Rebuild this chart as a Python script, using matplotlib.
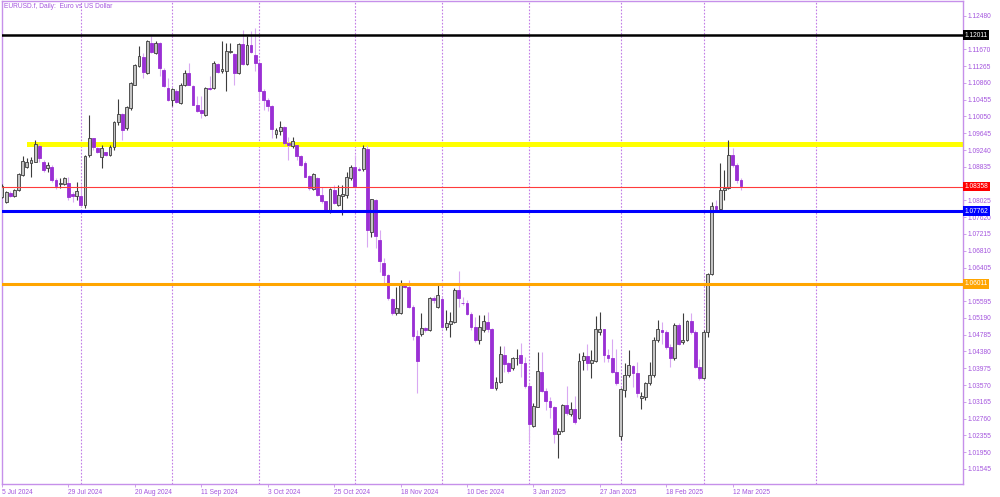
import matplotlib
matplotlib.use('Agg')
import matplotlib.pyplot as plt
import matplotlib.transforms as mtransforms
import numpy as np
import pandas as pd

# EURUSD.f daily candles, 5 Jul 2024 - 14 Mar 2025
opens = [1.0811, 1.0799, 1.0821, 1.0813, 1.0827, 1.0864, 1.0884, 1.0893, 1.0896, 1.0934,
         1.0896, 1.0880, 1.0884, 1.0852, 1.0842, 1.0842, 1.0844, 1.0819, 1.0813, 1.0814,
         1.0791, 1.0912, 1.0952, 1.0928, 1.0906, 1.0918, 1.0912, 1.0932, 1.0992, 1.1011,
         1.0977, 1.1025, 1.1082, 1.1126, 1.1148, 1.1110, 1.1182, 1.1158, 1.1182, 1.1118,
         1.1074, 1.1045, 1.1066, 1.1037, 1.1082, 1.1110, 1.1078, 1.1033, 1.1021, 1.1009,
         1.1074, 1.1074, 1.1132, 1.1114, 1.1115, 1.1160, 1.1156, 1.1110, 1.1180, 1.1132,
         1.1178, 1.1152, 1.1134, 1.1067, 1.1045, 1.1029, 1.0963, 1.0969, 1.0979, 1.0941,
         1.0933, 1.0935, 1.0909, 1.0893, 1.0862, 1.0830, 1.0856, 1.0816, 1.0800, 1.0776,
         1.0827, 1.0792, 1.0814, 1.0816, 1.0856, 1.0882, 1.0879, 1.0878, 1.0927, 1.0727,
         1.0804, 1.0707, 1.0651, 1.0622, 1.0564, 1.0530, 1.0530, 1.0599, 1.0594, 1.0546,
         1.0476, 1.0480, 1.0494, 1.0490, 1.0568, 1.0546, 1.0564, 1.0498, 1.0505, 1.0509,
         1.0586, 1.0555, 1.0554, 1.0528, 1.0496, 1.0465, 1.0490, 1.0510, 1.0491, 1.0351,
         1.0365, 1.0429, 1.0409, 1.0397, 1.0421, 1.0429, 1.0409, 1.0355, 1.0258, 1.0305,
         1.0389, 1.0343, 1.0319, 1.0303, 1.0240, 1.0245, 1.0309, 1.0287, 1.0299, 1.0277,
         1.0417, 1.0427, 1.0409, 1.0415, 1.0486, 1.0491, 1.0429, 1.0421, 1.0389, 1.0235,
         1.0346, 1.0381, 1.0403, 1.0385, 1.0325, 1.0329, 1.0361, 1.0381, 1.0466, 1.0490,
         1.0486, 1.0449, 1.0421, 1.0502, 1.0460, 1.0466, 1.0511, 1.0485, 1.0401, 1.0375,
         1.0486, 1.0625, 1.0789, 1.0781, 1.0828, 1.0832, 1.0912, 1.0888, 1.0852]
highs = [1.0841, 1.0826, 1.0824, 1.0829, 1.0868, 1.0909, 1.0904, 1.0908, 1.0948, 1.0938,
         1.0900, 1.0896, 1.0888, 1.0856, 1.0856, 1.0860, 1.0860, 1.0823, 1.0847, 1.0840,
         1.0912, 1.1008, 1.0953, 1.0932, 1.0936, 1.0920, 1.0936, 1.0995, 1.1047, 1.1013,
         1.1029, 1.1087, 1.1132, 1.1174, 1.1158, 1.1189, 1.1198, 1.1186, 1.1184, 1.1122,
         1.1098, 1.1074, 1.1070, 1.1086, 1.1118, 1.1134, 1.1082, 1.1055, 1.1055, 1.1075,
         1.1102, 1.1138, 1.1134, 1.1188, 1.1182, 1.1182, 1.1158, 1.1182, 1.1214, 1.1198,
         1.1210, 1.1218, 1.1138, 1.1070, 1.1049, 1.1033, 1.0977, 1.0993, 1.0981, 1.0955,
         1.0955, 1.0937, 1.0913, 1.0897, 1.0864, 1.0868, 1.0858, 1.0834, 1.0802, 1.0832,
         1.0840, 1.0840, 1.0840, 1.0871, 1.0889, 1.0911, 1.0882, 1.0937, 1.0937, 1.0806,
         1.0806, 1.0731, 1.0663, 1.0626, 1.0566, 1.0594, 1.0610, 1.0602, 1.0610, 1.0550,
         1.0490, 1.0530, 1.0496, 1.0570, 1.0572, 1.0598, 1.0570, 1.0538, 1.0533, 1.0590,
         1.0632, 1.0570, 1.0562, 1.0532, 1.0522, 1.0526, 1.0526, 1.0534, 1.0494, 1.0377,
         1.0450, 1.0450, 1.0413, 1.0425, 1.0445, 1.0459, 1.0425, 1.0361, 1.0313, 1.0437,
         1.0437, 1.0349, 1.0329, 1.0306, 1.0253, 1.0311, 1.0355, 1.0317, 1.0330, 1.0435,
         1.0437, 1.0457, 1.0441, 1.0523, 1.0534, 1.0493, 1.0443, 1.0469, 1.0445, 1.0349,
         1.0409, 1.0441, 1.0405, 1.0413, 1.0340, 1.0365, 1.0413, 1.0474, 1.0514, 1.0510,
         1.0490, 1.0457, 1.0506, 1.0506, 1.0530, 1.0513, 1.0530, 1.0490, 1.0419, 1.0490,
         1.0628, 1.0799, 1.0803, 1.0892, 1.0876, 1.0948, 1.0928, 1.0892, 1.0856]
lows = [1.0808, 1.0797, 1.0810, 1.0810, 1.0825, 1.0862, 1.0880, 1.0860, 1.0894, 1.0896,
        1.0872, 1.0872, 1.0848, 1.0829, 1.0832, 1.0840, 1.0803, 1.0799, 1.0803, 1.0787,
        1.0783, 1.0908, 1.0924, 1.0916, 1.0881, 1.0910, 1.0910, 1.0925, 1.0985, 1.0949,
        1.0973, 1.1021, 1.1080, 1.1124, 1.1098, 1.1108, 1.1158, 1.1156, 1.1102, 1.1075,
        1.1043, 1.1029, 1.1037, 1.1035, 1.1078, 1.1080, 1.1032, 1.1016, 1.1001, 1.1005,
        1.1068, 1.1072, 1.1110, 1.1110, 1.1066, 1.1158, 1.1082, 1.1108, 1.1130, 1.1130,
        1.1158, 1.1114, 1.1045, 1.1021, 1.1017, 1.0953, 1.0953, 1.0961, 1.0937, 1.0900,
        1.0929, 1.0901, 1.0885, 1.0858, 1.0828, 1.0828, 1.0812, 1.0796, 1.0776, 1.0772,
        1.0794, 1.0788, 1.0768, 1.0808, 1.0852, 1.0832, 1.0874, 1.0874, 1.0690, 1.0715,
        1.0687, 1.0630, 1.0598, 1.0562, 1.0526, 1.0526, 1.0528, 1.0592, 1.0542, 1.0466,
        1.0337, 1.0475, 1.0485, 1.0488, 1.0556, 1.0542, 1.0494, 1.0490, 1.0472, 1.0507,
        1.0546, 1.0550, 1.0526, 1.0490, 1.0461, 1.0457, 1.0486, 1.0486, 1.0349, 1.0345,
        1.0361, 1.0389, 1.0385, 1.0393, 1.0405, 1.0377, 1.0349, 1.0220, 1.0256, 1.0303,
        1.0341, 1.0297, 1.0277, 1.0216, 1.0180, 1.0244, 1.0285, 1.0282, 1.0263, 1.0274,
        1.0393, 1.0393, 1.0373, 1.0413, 1.0478, 1.0413, 1.0413, 1.0385, 1.0357, 1.0224,
        1.0329, 1.0377, 1.0353, 1.0329, 1.0300, 1.0321, 1.0357, 1.0377, 1.0461, 1.0457,
        1.0445, 1.0401, 1.0417, 1.0453, 1.0455, 1.0463, 1.0481, 1.0399, 1.0369, 1.0371,
        1.0474, 1.0623, 1.0779, 1.0779, 1.0803, 1.0830, 1.0884, 1.0844, 1.0827]
closes = [1.0836, 1.0823, 1.0813, 1.0827, 1.0866, 1.0897, 1.0894, 1.0900, 1.0938, 1.0904,
          1.0876, 1.0889, 1.0852, 1.0838, 1.0845, 1.0857, 1.0811, 1.0814, 1.0825, 1.0791,
          1.0910, 1.0952, 1.0932, 1.0920, 1.0930, 1.0912, 1.0932, 1.0992, 1.1011, 1.0973,
          1.1028, 1.1085, 1.1130, 1.1150, 1.1112, 1.1188, 1.1160, 1.1182, 1.1122, 1.1078,
          1.1045, 1.1070, 1.1041, 1.1082, 1.1110, 1.1082, 1.1033, 1.1017, 1.1013, 1.1074,
          1.1070, 1.1134, 1.1112, 1.1120, 1.1162, 1.1164, 1.1110, 1.1180, 1.1132, 1.1178,
          1.1160, 1.1134, 1.1066, 1.1045, 1.1029, 1.0975, 1.0973, 1.0979, 1.0941, 1.0935,
          1.0945, 1.0909, 1.0889, 1.0860, 1.0832, 1.0866, 1.0816, 1.0800, 1.0780, 1.0830,
          1.0796, 1.0816, 1.0818, 1.0858, 1.0884, 1.0834, 1.0876, 1.0929, 1.0730, 1.0805,
          1.0716, 1.0655, 1.0622, 1.0566, 1.0531, 1.0542, 1.0598, 1.0594, 1.0546, 1.0476,
          1.0416, 1.0494, 1.0490, 1.0566, 1.0562, 1.0575, 1.0498, 1.0507, 1.0511, 1.0586,
          1.0568, 1.0554, 1.0528, 1.0496, 1.0465, 1.0498, 1.0512, 1.0491, 1.0351, 1.0365,
          1.0433, 1.0408, 1.0391, 1.0421, 1.0423, 1.0409, 1.0355, 1.0264, 1.0306, 1.0391,
          1.0343, 1.0319, 1.0305, 1.0240, 1.0247, 1.0309, 1.0290, 1.0300, 1.0268, 1.0415,
          1.0427, 1.0409, 1.0417, 1.0491, 1.0491, 1.0429, 1.0421, 1.0389, 1.0362, 1.0347,
          1.0381, 1.0405, 1.0385, 1.0337, 1.0330, 1.0361, 1.0381, 1.0466, 1.0491, 1.0486,
          1.0449, 1.0421, 1.0502, 1.0457, 1.0466, 1.0511, 1.0485, 1.0401, 1.0373, 1.0484,
          1.0625, 1.0789, 1.0781, 1.0828, 1.0832, 1.0912, 1.0888, 1.0852, 1.0836]

# trading days (no bars on 25 Dec and 1 Jan)
dates = pd.bdate_range('2024-07-05', '2025-03-14')
dates = dates[~dates.isin(pd.to_datetime(['2024-12-25', '2025-01-01']))]

# horizontal levels drawn on the chart
level_prices = [1.12011, 1.08358, 1.07762, 1.06011]
level_colors = ['#000000', '#ff3b3b', '#0000ff', '#ffa500']
tag_colors = ['#000000', '#ff0000', '#0000ff', '#ffa500']
level_widths = [1.8, 0.8, 2.2, 2.2]
zone_low, zone_high = 1.0931, 1.0944
zone_start = '2024-07-15'

purple = '#a455de'
frame = '#c690ea'
plt.rcParams['font.family'] = ['Liberation Sans', 'DejaVu Sans']

o = np.array(opens)
h = np.array(highs)
l = np.array(lows)
c = np.array(closes)
x = np.arange(len(c))
up = c >= o

fig = plt.figure(figsize=(10, 4.97), dpi=100)
ax = fig.add_axes([0.002, 0.026, 0.961, 0.972])

# yellow zone (behind candles)
zs = int(np.where(dates == pd.Timestamp(zone_start))[0][0])
ax.fill_between([zs, 240], zone_low, zone_high, color='#ffff00', lw=0, zorder=1)

# month separators
month_starts = [i for i in range(1, len(dates)) if dates[i].month != dates[i - 1].month]
month_starts.append(196)  # separator in the empty area on the right
for m in month_starts:
    ax.axvline(m, color='#c27de6', lw=0.8, ls=(0, (1.5, 1.5)), zorder=0.5)

# candles
ax.vlines(x[up], l[up], h[up], color='#3c3c3c', lw=0.8, zorder=3)
ax.vlines(x[~up], l[~up], h[~up], color='#d9a8f2', lw=0.8, zorder=3)
body = np.maximum(np.abs(c - o), 0.00005)
ax.bar(x[up], body[up], bottom=o[up], width=0.68, color='#c4c4c4',
       edgecolor='#3c3c3c', lw=0.6, zorder=4)
ax.bar(x[~up], body[~up], bottom=c[~up], width=0.68, color='#9a2fd4',
       edgecolor='#9a2fd4', lw=0.6, zorder=4)

# levels
for p, col, lw in zip(level_prices, level_colors, level_widths):
    ax.axhline(p, color=col, lw=lw, zorder=5)

ax.set_xlim(0.2, 231.5)
ax.set_ylim(1.01180, 1.12835)

# y axis on the right; labels under the price tags are left empty
yt = 1.01545 + 0.00405 * np.arange(28)
ylabels = []
for v in yt:
    hidden = any(abs(v - p) < 0.001 for p in level_prices) and abs(v - 1.07620) > 1e-6
    ylabels.append('' if hidden else f'{v:.5f}')
ax.yaxis.tick_right()
ax.set_yticks(yt)
ax.set_yticklabels(ylabels)
ax.tick_params(axis='y', colors=frame, labelcolor=purple, labelsize=4.8,
               length=2, width=0.6, pad=1)

# x axis labels every 16 bars
xt = list(range(0, len(dates), 16))
ax.set_xticks(xt)
ax.set_xticklabels([f'{dates[i].day} {dates[i].strftime("%b %Y")}' for i in xt], ha='left')
ax.tick_params(axis='x', colors=frame, labelcolor=purple, labelsize=4.8,
               length=2, width=0.6, pad=1.5)

for s in ax.spines.values():
    s.set_color(frame)
    s.set_linewidth(1)

# price tags on the right
trans = mtransforms.blended_transform_factory(ax.transAxes, ax.transData)
for p, col in zip(level_prices, tag_colors):
    ax.text(1.0016, p, f'{p:.5f}', transform=trans, fontsize=4.8, color='white',
            va='center', ha='left', zorder=10, clip_on=False,
            bbox=dict(boxstyle='square,pad=0.2', fc=col, ec='none'))

fig.text(0.004, 0.993, 'EURUSD.f, Daily:  Euro vs US Dollar', fontsize=4.8,
         color=purple, ha='left', va='top')

fig.savefig('out.png', dpi=100)
